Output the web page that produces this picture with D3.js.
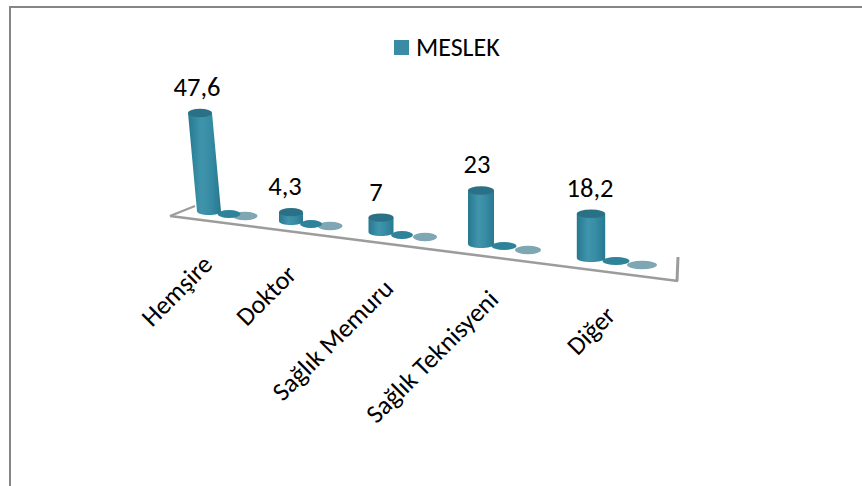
<!DOCTYPE html>
<html><head><meta charset="utf-8">
<style>html,body{margin:0;padding:0;background:#fff}svg{display:block}text{font-family:Carlito,Calibri,Lato,"Open Sans","Noto Sans",sans-serif;fill:#000}</style>
<script src="https://cdn.jsdelivr.net/npm/d3@7"></script></head><body>
<svg id="c" width="862" height="486"></svg>
<script>
const categories=["Hemşire","Doktor","Sağlık Memuru","Sağlık Teknisyeni","Diğer"];
const seriesName="MESLEK";
const values=[47.6,4.3,7,23,18.2];
const labels=["47,6","4,3","7","23","18,2"];
const hidden1=[0,0,0,0,0];
const hidden2=[0,0,0,0,0];

const svg=d3.select("#c");
const idx=[0,1,2,3,4];
const s=r=>d3.scaleLinear().domain(idx).range(r);
// perspective projection of the category axis
const xs=s([209,291,381,481,591]);
const floor=s([211,221,232,244,258]);
const rx=s([12,12,12.5,13,14.2]);
const persp=s([1,1,1,1.13,1.18]);
const labelDx=s([-3,-6,-5,-4,-1]);
const s1x=s([229,311,402,504,616]),s1y=s([214,224,235,246,261]),s1r=s([11.5,11,11,12.5,13.5]);
const s2x=s([245,330,425,528,642]),s2y=s([216,226,237,250,265]),s2r=s([12.5,12.5,12,13,15]);
const unit=d3.scaleLinear().domain([0,47.6]).range([0,98]);
const labX=s([214,298,395,500,617]);
const labY=s([266,276,290,301,317]);

const defs=svg.append("defs");
const grad=defs.append("linearGradient").attr("id","g");
[[0,"#27788f"],[.4,"#3f95ac"],[.65,"#388da5"],[1,"#267990"]].forEach(([o,c])=>grad.append("stop").attr("offset",o).attr("stop-color",c));
defs.append("filter").attr("id","b").append("feGaussianBlur").attr("stdDeviation",0.6);

svg.append("rect").attr("x",10).attr("y",7).attr("width",900).attr("height",520).attr("fill","none").attr("stroke","#868686").attr("stroke-width",2);

// floor
const wall="#9c9c9c";
const line=d3.line();
const fl=svg.append("g").attr("filter","url(#b)").attr("fill","none").attr("stroke",wall);
fl.append("path").attr("d",line([[170,216],[195,206]])).attr("stroke-width",2.2);
fl.append("path").attr("d",line([[170,216],[678,281]])).attr("stroke-width",2.6);
fl.append("path").attr("d",line([[677,281],[678,257]])).attr("stroke-width",3);

const marks=svg.append("g").attr("filter","url(#b)");
idx.forEach(i=>{
  marks.append("ellipse").attr("cx",s2x(i)).attr("cy",s2y(i)-unit(hidden2[i])).attr("rx",s2r(i)).attr("ry",4.2).attr("fill","#7fa6b3");
  marks.append("ellipse").attr("cx",s1x(i)).attr("cy",s1y(i)-unit(hidden1[i])).attr("rx",s1r(i)).attr("ry",4).attr("fill","#2f8299");
  const x=xs(i),b=floor(i),r=rx(i),h=unit(values[i])*persp(i),ry=4.2,lean=i===0?-9:0;
  const tx=x+lean,ty=b-h;
  const p=d3.path();
  p.moveTo(tx-r,ty);p.lineTo(x-r,b);
  p.bezierCurveTo(x-r,b+ry*1.3,x+r,b+ry*1.3,x+r,b);
  p.lineTo(tx+r,ty);p.closePath();
  marks.append("path").attr("d",p).attr("fill","url(#g)");
  marks.append("ellipse").attr("cx",tx).attr("cy",ty).attr("rx",r).attr("ry",ry).attr("fill","#2c6f86");
  svg.append("text").attr("x",tx+labelDx(i)).attr("y",ty-17).attr("text-anchor","middle").attr("font-size",26.5).text(labels[i]);
});

categories.forEach((c,i)=>{
  svg.append("text").attr("transform",`translate(${labX(i)},${labY(i)}) rotate(-45)`).attr("text-anchor","end").attr("font-size",26).text(c);
});

// legend
svg.append("rect").attr("x",394).attr("y",40).attr("width",15).attr("height",15).attr("fill","#3a8ba3");
svg.append("text").attr("x",416).attr("y",56).attr("font-size",26).text(seriesName);
</script></body></html>
